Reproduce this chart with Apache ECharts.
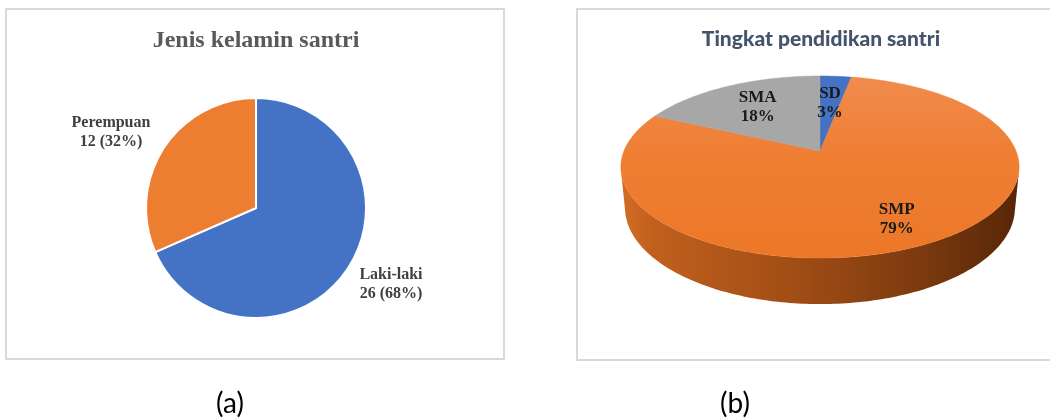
<!DOCTYPE html>
<html>
<head>
<meta charset="utf-8">
<script src="https://cdn.jsdelivr.net/npm/echarts@6/dist/echarts.min.js"></script>
<style>
  html, body { margin: 0; padding: 0; background: #ffffff; }
  #chart { width: 1050px; height: 419px; }
</style>
</head>
<body>
<div id="chart"></div>
<script>
// ---------- data ----------
const genderNames = ['Laki-laki', 'Perempuan'];
const genderValues = [26, 12];
const eduNames = ['SD', 'SMP', 'SMA'];
const eduValues = [3, 79, 18];
const titleA = 'Jenis kelamin santri';
const titleB = 'Tingkat pendidikan santri';
const captions = ['(a)', '(b)'];

// ---------- styling / layout ----------
const genderColors = ['#4472C4', '#ED7D31'];
const eduColors = ['#4472C4', '#ED7D31', '#A7A7A7'];
const genderLabelPos = [[391, 284], [111, 132]];
const eduLabelRadius = [0.6, 0.76, 0.65];

// perspective model of the 3-D pie (unit radius disk)
const P = { cx: 820, cy: 151, k: 995, D: 5.076, sinP: 0.45, cosP: 0.893, H: 0.235 };
// silhouette angles of the cylinder side (deg, clockwise from back)
const silCos = -1 / (P.D * P.cosP);
const SIL0 = Math.acos(silCos) * 180 / Math.PI;
const SIL1 = 360 - SIL0;

function project(theta, Y, r) {
  const t = theta * Math.PI / 180;
  const X = r * Math.sin(t), Z = -r * Math.cos(t);
  const d = P.D - Z * P.cosP - Y * P.sinP;
  return [P.cx + P.k * X / d, P.cy + P.k * (Z * P.sinP - Y * P.cosP) / d];
}
function arcAngles(a0, a1) {
  const out = [];
  const n = Math.max(2, Math.ceil((a1 - a0) / 1));
  for (let i = 0; i <= n; i++) out.push(a0 + (a1 - a0) * i / n);
  return out;
}

const eduTotal = eduValues.reduce((s, v) => s + v, 0);

const chart = echarts.init(document.getElementById('chart'), null, { renderer: 'canvas' });

const option = {
  backgroundColor: '#ffffff',
  animation: false,
  graphic: [
    { type: 'rect', shape: { x: 6, y: 9, width: 498, height: 350 },
      style: { fill: 'none', stroke: '#d9d9d9', lineWidth: 2 }, silent: true },
    { type: 'rect', shape: { x: 577, y: 9, width: 490, height: 351 },
      style: { fill: 'none', stroke: '#d9d9d9', lineWidth: 2 }, silent: true },
    { type: 'text', x: 256, y: 41,
      style: { text: titleA, textAlign: 'center', textVerticalAlign: 'middle',
               font: 'bold 24px "Liberation Serif", "Times New Roman", serif', fill: '#595959' } },
    { type: 'text', x: 821, y: 39,
      style: { text: titleB, textAlign: 'center', textVerticalAlign: 'middle',
               font: '900 21px Lato, "Open Sans", sans-serif', fill: '#44546A' } },
    { type: 'text', x: 230, y: 404,
      style: { text: captions[0], textAlign: 'center', textVerticalAlign: 'middle',
               font: '28px Lato, "Open Sans", sans-serif', fill: '#000000' } },
    { type: 'text', x: 735, y: 404,
      style: { text: captions[1], textAlign: 'center', textVerticalAlign: 'middle',
               font: '28px Lato, "Open Sans", sans-serif', fill: '#000000' } }
  ],
  series: [
    {
      type: 'pie',
      center: [256, 208],
      radius: 110,
      startAngle: 90,
      clockwise: true,
      silent: true,
      data: genderNames.map((n, i) => ({
        name: n, value: genderValues[i],
        itemStyle: { color: genderColors[i] }
      })),
      itemStyle: { borderColor: '#ffffff', borderWidth: 2 },
      label: {
        show: true,
        position: 'outside',
        formatter: p => p.name + '\n' + p.value + ' (' + Math.round(p.percent) + '%)',
        fontFamily: '"Liberation Serif", "Times New Roman", serif',
        fontWeight: 'bold',
        fontSize: 16,
        lineHeight: 19,
        color: '#404040'
      },
      labelLine: { show: false },
      labelLayout: function (params) {
        const pos = genderLabelPos[params.dataIndex];
        return { x: pos[0], y: pos[1], align: 'center', verticalAlign: 'middle' };
      }
    },
    {
      type: 'custom',
      coordinateSystem: 'none',
      silent: true,
      data: eduNames.map((n, i) => ({ name: n, value: eduValues[i] })),
      renderItem: function (params, api) {
        const i = params.dataIndex;
        let start = 0;
        for (let j = 0; j < i; j++) start += eduValues[j];
        const a0 = start / eduTotal * 360;
        const a1 = (start + eduValues[i]) / eduTotal * 360;
        const children = [];
        // side wall (visible front part)
        const s0 = Math.max(a0, SIL0), s1 = Math.min(a1, SIL1);
        if (s1 > s0) {
          const pts = [];
          arcAngles(s0, s1).forEach(a => pts.push(project(a, 0, 1)));
          arcAngles(s0, s1).reverse().forEach(a => pts.push(project(a, -P.H, 1)));
          children.push({
            type: 'polygon', z2: 1,
            shape: { points: pts },
            style: {
              fill: {
                type: 'linear', x: 0, y: 0, x2: 1, y2: 0,
                colorStops: [
                  { offset: 0, color: '#d26c24' },
                  { offset: 0.08, color: '#c0601d' },
                  { offset: 0.45, color: '#a04c15' },
                  { offset: 0.75, color: '#7c3a0f' },
                  { offset: 1, color: '#572607' }
                ]
              }
            }
          });
        }
        // top face
        const top = [project(0, 0, 0)];
        arcAngles(a0, a1).forEach(a => top.push(project(a, 0, 1)));
        const base = eduColors[i];
        children.push({
          type: 'polygon', z2: 2,
          shape: { points: top },
          style: {
            fill: i === 1 ? {
              type: 'linear', x: 0, y: 0, x2: 0, y2: 1,
              colorStops: [
                { offset: 0, color: '#f08c4e' },
                { offset: 0.4, color: '#ef7f34' },
                { offset: 1, color: '#ec7728' }
              ]
            } : base,
            stroke: base, lineWidth: 0.5
          }
        });
        // label
        const mid = (a0 + a1) / 2;
        const lp = project(mid, 0, eduLabelRadius[i]);
        const pct = Math.round(eduValues[i] / eduTotal * 100);
        children.push({
          type: 'text', z2: 10,
          x: lp[0], y: lp[1],
          style: {
            text: eduNames[i] + '\n' + pct + '%',
            textAlign: 'center', textVerticalAlign: 'middle',
            font: 'bold 17px "Liberation Serif", "Times New Roman", serif',
            lineHeight: 19,
            fill: '#1a1a1a'
          }
        });
        return { type: 'group', children: children };
      }
    }
  ]
};
chart.setOption(option);
</script>
</body>
</html>
